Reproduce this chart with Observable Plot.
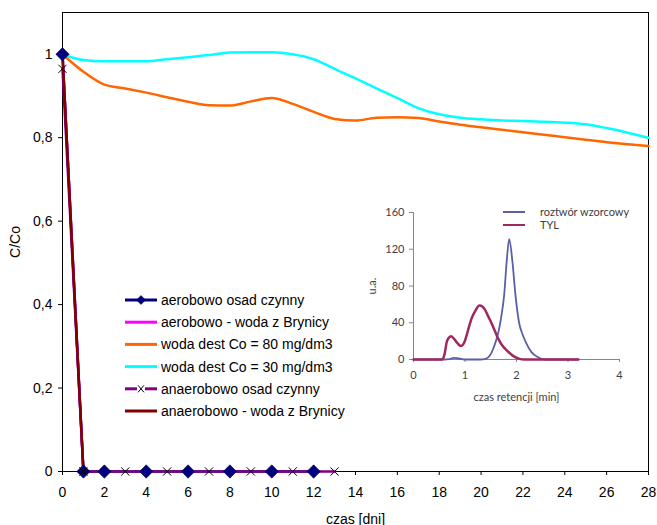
<!DOCTYPE html>
<html><head><meta charset="utf-8">
<script src="https://cdn.jsdelivr.net/npm/d3@7"></script>
<script src="https://cdn.jsdelivr.net/npm/@observablehq/plot@0.6"></script>
<style>
body{margin:0;background:#fff;}
#wrap{position:relative;width:657px;height:525px;font-family:"Liberation Sans",Arial,sans-serif;}
#wrap > svg{position:absolute;}
</style></head><body><div id="wrap"></div>
<script>
// ---- main chart data ----
const days = d3.range(0, 29);
const woda80 = [1.0,0.958,0.927,0.918,0.908,0.897,0.886,0.878,0.877,0.887,0.895,0.881,0.862,0.845,0.841,0.848,0.849,0.847,0.839,0.831,0.825,0.819,0.813,0.807,0.801,0.795,0.789,0.784,0.780];
const woda30 = [1.0,0.986,0.983,0.983,0.983,0.988,0.993,0.998,1.004,1.005,1.005,1.0,0.988,0.965,0.942,0.918,0.895,0.871,0.856,0.848,0.844,0.841,0.840,0.838,0.836,0.832,0.823,0.812,0.800];
const aeroOsadDays = [0,1,2,4,6,8,10,12];
const aeroOsad     = [1,0,0,0,0,0,0,0];
const aeroBrynDays = [0,1];
const aeroBryn     = [1,0];
const anaeroOsadDays = [0,1,3,5,7,9,11,13];
const anaeroOsad     = [0.965,0,0,0,0,0,0,0];
const anaeroBrynDays = [0,1];
const anaeroBryn     = [1,0];
const xTicks = [0,2,4,6,8,10,12,14,16,18,20,22,24,26,28];
const yTicks = [0,0.2,0.4,0.6,0.8,1];
const seriesNames = ["aerobowo osad czynny","aerobowo - woda z Brynicy","woda dest Co = 80 mg/dm3","woda dest Co = 30 mg/dm3","anaerobowo osad czynny","anaerobowo - woda z Brynicy"];
const seriesColors = ["#000080","#ff00ff","#ff6600","#00ffff","#800080","#800000"];

// ---- inset data ----
const stdX = [0,0.6,0.7,0.78,0.85,0.95,1.0,1.3,1.4,1.48,1.55,1.6,1.665,1.7,1.76,1.81,1.858,1.92,1.98,2.05,2.12,2.18,2.29,2.42,2.55,3.2];
const stdY = [0,0,0.5,1.8,1.5,0.3,0,0,0.7,4,12,20,34,45,70,107,131,107,70,40,27,19,8,2.5,0,0];
const tylX = [0,0.55,0.6,0.645,0.69,0.73,0.78,0.85,0.92,0.98,1.03,1.08,1.13,1.2,1.28,1.34,1.39,1.45,1.52,1.58,1.645,1.72,1.81,1.94,2.06,2.15,3.2];
const tylY = [0,0,5,19,24,25.3,23,18,14.7,18,26,36,45,53,58.7,57.5,54,47,39,31,22.7,15.5,10,3.7,0.7,0,0];
const insetNames = ["roztwór wzorcowy","TYL"];
const insetColors = ["#5a5fa8","#a0285f"];
const insetXTicks = [0,1,2,3,4];
const insetYTicks = [0,40,80,120,160];

const toRows = (xs, ys, s) => xs.map((x,i)=>({x, y: ys[i], s}));
const aO = toRows(aeroOsadDays, aeroOsad, seriesNames[0]);
const aB = toRows(aeroBrynDays, aeroBryn, seriesNames[1]);
const w80 = toRows(days, woda80, seriesNames[2]);
const w30 = toRows(days, woda30, seriesNames[3]);
const nO = toRows(anaeroOsadDays, anaeroOsad, seriesNames[4]);
const nB = toRows(anaeroBrynDays, anaeroBryn, seriesNames[5]);
const fmtY = d => d === 0 ? "0" : d === 1 ? "1" : d.toFixed(1).replace(".", ",");

const wrap = document.getElementById("wrap");

const main = Plot.plot({
  width: 657, height: 525,
  marginLeft: 62, marginRight: 9, marginTop: 12, marginBottom: 54,
  style: {fontFamily: "'Liberation Sans', Arial, sans-serif", fontSize: "14px", color: "#000", background: "transparent"},
  x: {domain: [0, 28], ticks: xTicks, tickSize: 4, tickPadding: 12, label: "czas [dni]", labelAnchor: "center", labelArrow: "none", labelOffset: 52},
  y: {domain: [0, 1.1], ticks: yTicks, tickFormat: fmtY, tickSize: 4, tickPadding: 6, label: "C/Co", labelAnchor: "center", labelArrow: "none", labelOffset: 52},
  marks: [
    Plot.frame({stroke: "#000"}),
    Plot.line(aO, {x: "x", y: "y", stroke: seriesColors[0], strokeWidth: 2.5}),
    Plot.line(aB, {x: "x", y: "y", stroke: seriesColors[1], strokeWidth: 2.5}),
    Plot.line(w80, {x: "x", y: "y", stroke: seriesColors[2], strokeWidth: 2.5, curve: "monotone-x"}),
    Plot.line(w30, {x: "x", y: "y", stroke: seriesColors[3], strokeWidth: 2.5, curve: "monotone-x"}),
    Plot.line(nO, {x: "x", y: "y", stroke: seriesColors[4], strokeWidth: 2.5}),
    Plot.line(nB, {x: "x", y: "y", stroke: seriesColors[5], strokeWidth: 2.5}),
    Plot.dot(aO, {x: "x", y: "y", symbol: "diamond2", r: 6, fill: "#000080", stroke: "#000033", strokeWidth: 0.6}),
    Plot.dot(nO, {x: "x", y: "y", symbol: "times", r: 3.8, stroke: "#000", strokeWidth: 1})
  ]
});
main.style.left = "0px"; main.style.top = "0px";
wrap.appendChild(main);

// legend (main)
const leg = d3.create("svg").attr("width", 260).attr("height", 140)
  .style("left", "120px").style("top", "288px");
seriesNames.forEach((name, i) => {
  const y = 12 + i * 22.2;
  const g = leg.append("g");
  if (i === 4) {
    g.append("line").attr("x1", 5).attr("x2", 17).attr("y1", y).attr("y2", y).attr("stroke", seriesColors[i]).attr("stroke-width", 3);
    g.append("line").attr("x1", 25).attr("x2", 37).attr("y1", y).attr("y2", y).attr("stroke", seriesColors[i]).attr("stroke-width", 3);
    g.append("path").attr("d", `M${18},${y-3.5}L${24},${y+3.5}M${24},${y-3.5}L${18},${y+3.5}`).attr("stroke", "#000").attr("stroke-width", 1);
  } else {
    g.append("line").attr("x1", 5).attr("x2", 37).attr("y1", y).attr("y2", y).attr("stroke", seriesColors[i]).attr("stroke-width", 3);
  }
  if (i === 0) {
    g.append("path").attr("d", `M21,${y-4.5}L25.5,${y}L21,${y+4.5}L16.5,${y}Z`).attr("fill", "#000080").attr("stroke", "#000033").attr("stroke-width", 0.5);
  }
  g.append("text").attr("x", 41).attr("y", y).attr("dy", "0.36em")
    .attr("font-family", "'Liberation Sans', Arial, sans-serif").attr("font-size", 14).text(name);
});
wrap.appendChild(leg.node());

// inset chart
const stdRows = toRows(stdX, stdY, insetNames[0]);
const tylRows = toRows(tylX, tylY, insetNames[1]);
const inset = Plot.plot({
  width: 280, height: 215,
  marginLeft: 48, marginRight: 26, marginTop: 17, marginBottom: 51,
  style: {fontFamily: "Lato, 'Open Sans', sans-serif", fontSize: "11px", color: "#404040", background: "transparent"},
  x: {domain: [0, 4], ticks: insetXTicks, tickFormat: "d", tickSize: 3, tickPadding: 9, label: "czas retencji [min]", labelAnchor: "center", labelArrow: "none", labelOffset: 41},
  y: {domain: [0, 160], ticks: insetYTicks, tickFormat: "d", tickSize: 4, tickPadding: 5, label: "u.a.", labelAnchor: "center", labelArrow: "none", labelOffset: 45},
  marks: [
    Plot.ruleX([0], {stroke: "#868686"}),
    Plot.ruleY([0], {stroke: "#868686"}),
    Plot.line(stdRows, {x: "x", y: "y", stroke: insetColors[0], strokeWidth: 1.8, curve: "monotone-x"}),
    Plot.line(tylRows, {x: "x", y: "y", stroke: insetColors[1], strokeWidth: 2.5, curve: "monotone-x"})
  ]
});
inset.style.left = "365px"; inset.style.top = "195px";
d3.select(inset).selectAll("[aria-label^='x-axis tick'] path, [aria-label^='y-axis tick'] path").attr("stroke", "#868686");
wrap.appendChild(inset);

// inset legend
const leg2 = d3.create("svg").attr("width", 150).attr("height", 40)
  .style("left", "500px").style("top", "204px");
insetNames.forEach((name, i) => {
  const y = 8 + i * 13;
  leg2.append("line").attr("x1", 3).attr("x2", 25).attr("y1", y).attr("y2", y).attr("stroke", insetColors[i]).attr("stroke-width", 2);
  leg2.append("text").attr("x", 40).attr("y", y).attr("dy", "0.36em")
    .attr("font-family", "Lato, 'Open Sans', sans-serif").attr("font-size", 11).attr("fill", "#404040").text(name);
});
wrap.appendChild(leg2.node());
</script></body></html>
